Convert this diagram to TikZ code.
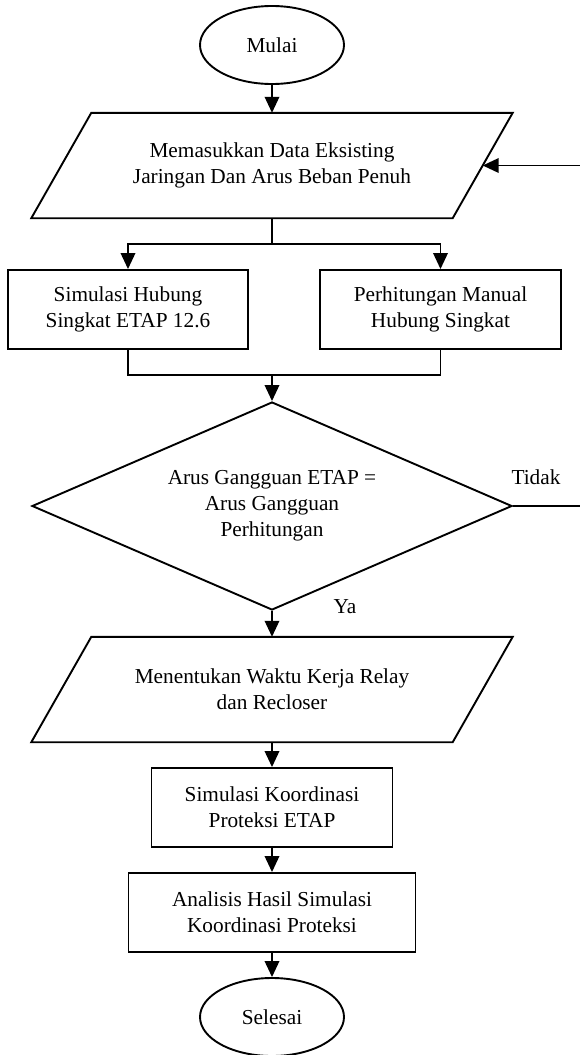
\documentclass[tikz,border=0pt]{standalone}
\usepackage{fontspec}
\setmainfont{Liberation Serif}
\usetikzlibrary{arrows.meta,shapes.geometric,calc}
\begin{document}
\begin{tikzpicture}[x=1pt,y=-1pt,
  line/.style={line width=1.9pt},
  arr/.style={line width=1.9pt,-{Triangle[length=16pt,width=14.5pt]}},
  txt/.style={font=\fontsize{21.3}{26}\selectfont, align=center},
  proc/.style={txt,draw,line width=1.9pt,rectangle,minimum height=79pt,inner sep=0pt},
  term/.style={txt,draw,line width=1.9pt,ellipse,minimum width=144pt,minimum height=78pt,inner sep=0pt},
  iobox/.style={txt,rectangle,minimum width=421pt,minimum height=105pt,inner sep=0pt},
  decision/.style={txt,draw,line width=1.9pt,diamond,aspect=2.3,minimum width=480pt,minimum height=208pt,inner sep=0pt}
  ]
\useasboundingbox[fill=white] (0,0) rectangle (580,1055);

% nodes
\node[term] (start) at (272,45) {Mulai};
\node[iobox] (in1) at (272,165.5) {Memasukkan Data Eksisting\\Jaringan Dan Arus Beban Penuh};
\draw[line] ([xshift=30pt]in1.north west) -- ([xshift=30pt]in1.north east)
  -- ([xshift=-30pt]in1.south east) -- ([xshift=-30pt]in1.south west) -- cycle;
\node[proc,minimum width=240pt] (sim) at (128,309.5) {Simulasi Hubung\\Singkat ETAP 12.6};
\node[proc,minimum width=241pt] (man) at (440.5,309.5) {Perhitungan Manual\\Hubung Singkat};
\node[decision] (dec) at (272,506) {Arus Gangguan ETAP =\\Arus Gangguan\\Perhitungan};
\node[iobox] (in2) at (272,689.5) {Menentukan Waktu Kerja Relay\\dan Recloser};
\draw[line] ([xshift=30pt]in2.north west) -- ([xshift=30pt]in2.north east)
  -- ([xshift=-30pt]in2.south east) -- ([xshift=-30pt]in2.south west) -- cycle;
\node[proc,minimum width=241pt] (koor) at (272,807.5) {Simulasi Koordinasi\\Proteksi ETAP};
\node[proc,minimum width=287pt] (anal) at (272,912.5) {Analisis Hasil Simulasi\\Koordinasi Proteksi};
\node[term] (end) at (272,1017) {Selesai};
\node[txt] (tidak) at (536,477) {Tidak};
\node[txt] (ya) at (345,607) {Ya};

% connectors
\draw[arr] (start.south) -- (in1.north);
\draw[line] (in1.south) -- ++(0,26) coordinate (split);
\draw[arr] (split) -| (sim.north);
\draw[arr] (split) -| (man.north);
\coordinate (merge) at (272,375);
\draw[line] (sim.south) |- (merge) -| (man.south);
\draw[arr] (merge) -- (dec.north);
\draw[arr] (dec.south) -- (in2.north);
\draw[arr] (in2.south) -- (koor.north);
\draw[arr] (koor.south) -- (anal.north);
\draw[arr] (anal.south) -- (end.north);
\draw[arr] (dec.east) -- ++(80,0) |- (in1.east);
\end{tikzpicture}
\end{document}
